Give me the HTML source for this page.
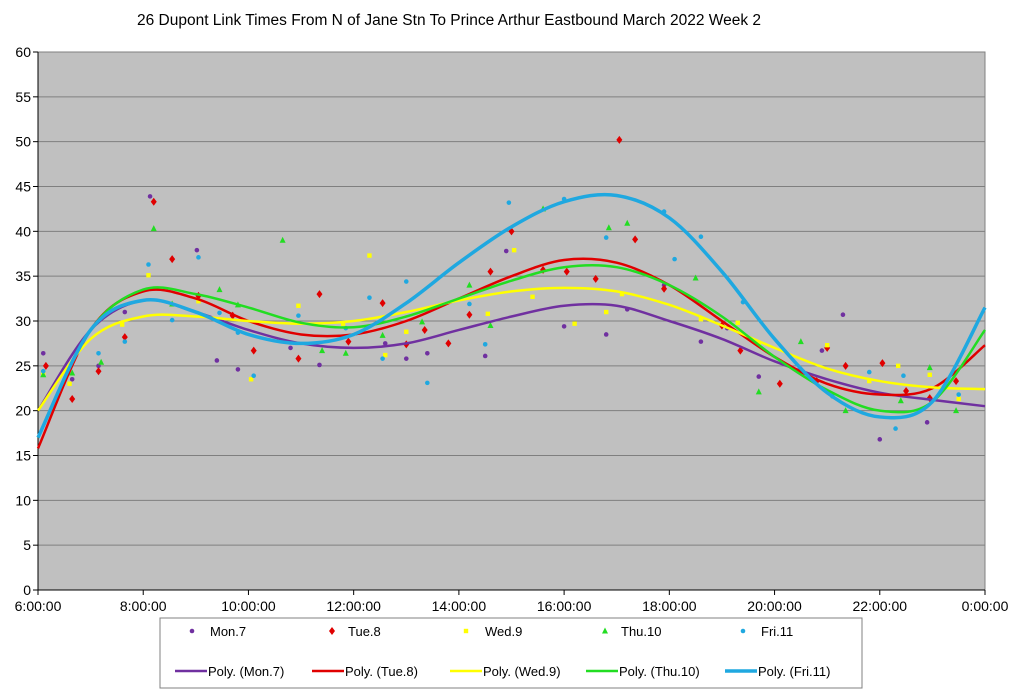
<!DOCTYPE html>
<html><head><meta charset="utf-8"><style>
body{margin:0;background:#fff;}
svg{display:block;font-family:"Liberation Sans",Arial,sans-serif;}
</style></head><body>
<svg id="chart" width="1024" height="693">
<text x="449" y="25" font-size="15.5" text-anchor="middle" font-family="Liberation Sans, sans-serif">26 Dupont Link Times From N of Jane Stn To Prince Arthur Eastbound March 2022  Week 2</text>
</svg>
<script>
const yTicks=[0,5,10,15,20,25,30,35,40,45,50,55,60];
const xTickLabels=["6:00:00","8:00:00","10:00:00","12:00:00","14:00:00","16:00:00","18:00:00","20:00:00","22:00:00","0:00:00"];
const seriesNames=["Mon.7","Tue.8","Wed.9","Thu.10","Fri.11"];
const trendHours=[6,7,8,9,10,11,12,13,14,15,16,17,18,19,20,21,22,23,24];
const trendMon=[20,29,32.3,31,29,27.5,27,27.5,29,30.5,31.7,31.7,30,28,25.5,23.5,22,21.2,20.5];
const trendTue=[15.8,29,33.3,32.5,30,28.5,28.5,30,32.5,35,36.8,36.5,34,30,26,23,21.8,22.5,27.3];
const trendWed=[20,28,30.5,30.5,30,29.7,30,31,32.3,33.3,33.7,33.3,31.8,29.5,27,24.7,23.3,22.6,22.4];
const trendThu=[17,29,33.5,33,31.5,29.8,29.3,30.5,32.5,34.5,36,36,34,30.5,26,22.3,20,21,29];
const trendFri=[17,29,32.3,31,28.5,27.5,28.5,32,36.5,40.5,43.3,44,41.5,35.5,28,22,19.3,21,31.5];
const ptsMon=[[6.1,26.4],[6.65,23.5],[7.15,25],[7.65,31],[8.13,43.9],[9.02,37.9],[9.4,25.6],[9.8,24.6],[10.8,27],[11.35,25.1],[12.6,27.5],[13,25.8],[13.4,26.4],[14.5,26.1],[14.9,37.8],[16,29.4],[16.8,28.5],[17.2,31.3],[17.9,34],[18.6,27.7],[19.1,29.2],[19.7,23.8],[20.9,26.7],[21.3,30.7],[22,16.8],[22.9,18.7]];
const ptsTue=[[6.15,25],[6.65,21.3],[7.15,24.4],[7.65,28.2],[8.2,43.3],[8.55,36.9],[9.05,32.8],[9.7,30.6],[10.1,26.7],[10.95,25.8],[11.35,33],[11.9,27.7],[12.55,32],[13,27.4],[13.35,29],[13.8,27.5],[14.2,30.7],[14.6,35.5],[15,40],[15.6,35.7],[16.05,35.5],[16.6,34.7],[17.05,50.2],[17.35,39.1],[17.9,33.6],[19,29.5],[19.35,26.7],[20.1,23],[20.8,23.3],[21,27],[21.35,25],[22.05,25.3],[22.5,22.2],[22.95,21.4],[23.45,23.3]];
const ptsWed=[[6.1,24.2],[6.6,23],[7.6,29.6],[8.1,35.1],[9.05,32.2],[10.05,23.5],[10.95,31.7],[11.8,29.7],[12.3,37.3],[12.6,26.2],[13,28.8],[14.55,30.8],[15.05,37.9],[15.4,32.7],[16.2,29.7],[16.8,31],[17.1,33],[18.6,30.2],[19.3,29.8],[19.7,27.4],[21,27.3],[21.8,23.3],[22.35,25],[22.95,24],[23.5,21.3]];
const ptsThu=[[6.1,24],[6.65,24.2],[7.2,25.4],[8.2,40.3],[8.55,31.9],[9.45,33.5],[9.8,31.8],[10.65,39],[11.4,26.7],[11.85,26.4],[12.55,28.4],[13.3,29.9],[14.2,34],[14.6,29.5],[15.6,42.5],[16.85,40.4],[17.2,40.9],[18.5,34.8],[19.7,22.1],[20.5,27.7],[21.35,20],[22.4,21.1],[22.95,24.8],[23.45,20]];
const ptsFri=[[6.1,24.4],[7.15,26.4],[7.65,27.7],[8.1,36.3],[8.55,30.1],[9.05,37.1],[9.45,30.9],[9.8,28.7],[10.1,23.9],[10.95,30.6],[11.85,29.2],[12.3,32.6],[12.55,25.8],[13,34.4],[13.4,23.1],[14.2,31.9],[14.5,27.4],[14.95,43.2],[16,43.6],[16.8,39.3],[17.9,42.2],[18.1,36.9],[18.6,39.4],[19.4,32.1],[21.1,21.6],[21.8,24.3],[22.3,18],[22.45,23.9],[23.5,21.8]];

const NS="http://www.w3.org/2000/svg";
const svg=document.getElementById('chart');
const L=38,R=985,T=52,B=590;
const xS=h=>L+(h-6)/18*(R-L);
const yS=v=>B-v/60*(B-T);
function mk(tag,attrs,parent){const e=document.createElementNS(NS,tag);for(const k in attrs)e.setAttribute(k,attrs[k]);(parent||svg).appendChild(e);return e;}

const plot=mk('rect',{x:L,y:T,width:R-L,height:B-T,fill:'#c0c0c0',stroke:'#808080','stroke-width':1});


yTicks.forEach(v=>{
  const g=mk('line',{x1:L,x2:R,y1:yS(v),y2:yS(v),stroke:'#7f7f7f','stroke-width':1});
  
  
  mk('line',{x1:L-5,x2:L,y1:yS(v),y2:yS(v),stroke:'#000'});
  const t=mk('text',{x:L-7,y:yS(v)+5,'font-size':14,'text-anchor':'end'});
  t.textContent=v;
  
  
});
mk('line',{x1:L,x2:L,y1:T,y2:B,stroke:'#000'});
mk('line',{x1:L,x2:R,y1:B,y2:B,stroke:'#000'});
xTickLabels.forEach((lab,i)=>{
  const x=xS(6+i*2);
  mk('line',{x1:x,x2:x,y1:B,y2:B+5,stroke:'#000'});
  const t=mk('text',{x:x,y:B+21,'font-size':14,'text-anchor':'middle'});
  t.textContent=lab;
  
  
});
const colors=['#7030a0','#e00000','#ffff00','#22dd22','#1fa8e0'];
const pts=[ptsMon,ptsTue,ptsWed,ptsThu,ptsFri];
const trends=[trendMon,trendTue,trendWed,trendThu,trendFri];
function marker(i,x,y,parent){
  const c=colors[i];let e;
  if(i===0||i===4)e=mk('circle',{cx:x,cy:y,r:2.3,fill:c},parent);
  else if(i===1)e=mk('polygon',{points:`${x},${y-4} ${x+3},${y} ${x},${y+4} ${x-3},${y}`,fill:c},parent);
  else if(i===2)e=mk('rect',{x:x-2.2,y:y-2.2,width:4.4,height:4.4,fill:c},parent);
  else e=mk('polygon',{points:`${x},${y-3.5} ${x+3},${y+2.5} ${x-3},${y+2.5}`,fill:c},parent);
  return e;
}
pts.forEach((arr,i)=>{
  arr.forEach(p=>{
    const m=marker(i,xS(p[0]),yS(p[1]));
    
    
  });
});
function smooth(xs,ys){
  const P=xs.map((h,k)=>[xS(h),yS(ys[k])]);
  let d=`M${P[0][0]},${P[0][1]}`;
  for(let k=0;k<P.length-1;k++){
    const p0=P[k-1]||P[k],p1=P[k],p2=P[k+1],p3=P[k+2]||P[k+1];
    const c1=[p1[0]+(p2[0]-p0[0])/6,p1[1]+(p2[1]-p0[1])/6];
    const c2=[p2[0]-(p3[0]-p1[0])/6,p2[1]-(p3[1]-p1[1])/6];
    d+=` C${c1[0]},${c1[1]} ${c2[0]},${c2[1]} ${p2[0]},${p2[1]}`;
  }
  return d;
}
trends.forEach((tr,i)=>{
  const p=mk('path',{d:smooth(trendHours,tr),fill:'none',stroke:colors[i],'stroke-width':i===4?3.5:2.5});
  
  
});
const lg=mk('g',{});


mk('rect',{x:160,y:618,width:702,height:70,fill:'#fff',stroke:'#808080'},lg);
const mX=[192,332,466,605,743],tX=[210,348,485,621,761];
const lX=[175,312,450,586,725];
seriesNames.forEach((n,i)=>{
  marker(i,mX[i],631,lg);
  const t=mk('text',{x:tX[i],y:636,'font-size':13},lg);
  t.textContent=n;
  
  
  mk('line',{x1:lX[i],x2:lX[i]+32,y1:671,y2:671,stroke:colors[i],'stroke-width':i===4?3.5:2.5},lg);
  const t2=mk('text',{x:lX[i]+33,y:676,'font-size':13},lg);
  t2.textContent='Poly. ('+n+')';
  
  
});
</script>
</body></html>
